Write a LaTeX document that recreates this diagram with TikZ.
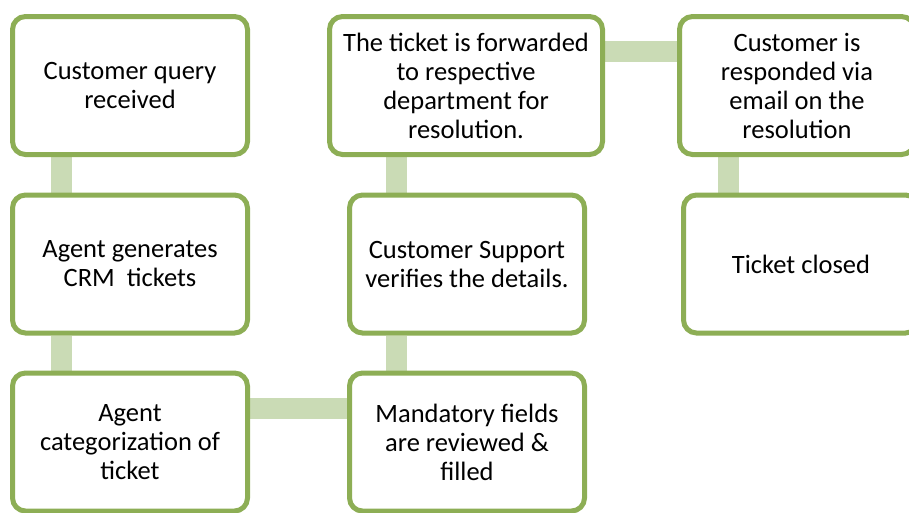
\documentclass[tikz,border=0pt]{standalone}
\usepackage{fontspec}
\setmainfont{Carlito}
\usetikzlibrary{backgrounds}
\definecolor{boxgreen}{HTML}{8DAE55}
\definecolor{linkgreen}{HTML}{CADBB5}
\tikzset{
  stepbox/.style={draw=boxgreen, line width=5pt, rounded corners=13pt, fill=white,
    minimum width=235pt, minimum height=138pt, align=center, inner sep=0pt,
    font=\fontsize{26.5}{29}\selectfont},
  widebox/.style={stepbox, minimum width=273pt},
  conn/.style={draw=linkgreen, line width=21pt}
}
\begin{document}
\begin{tikzpicture}[x=1pt,y=-1pt]
\useasboundingbox (0,0) rectangle (909,512);
\clip (0,0) rectangle (909,512);
\node[stepbox] (b1) at (130,85.5) {Customer query\\received};
\node[stepbox] (b2) at (130,264) {Agent generates\\CRM\ \ tickets};
\node[stepbox] (b3) at (130,442) {Agent\\categorization of\\ticket};
\node[stepbox] (b4) at (467,442) {Mandatory fields\\are reviewed \&\\filled};
\node[stepbox] (b5) at (467,264) {Customer Support\\verifies the details.};
\node[widebox] (b6) at (466,85.5) {The ticket is forwarded\\to respective\\department for\\resolution.};
\node[stepbox] (b7) at (797,85.5) {Customer is\\responded via\\email on the\\resolution};
\node[stepbox] (b8) at (801,264) {Ticket closed};
\begin{scope}[on background layer]
\draw[conn] ([xshift=-69pt]b1.south) -- ([xshift=-69pt]b2.north);
\draw[conn] ([xshift=-69pt]b2.south) -- ([xshift=-69pt]b3.north);
\draw[conn] ([yshift=34pt]b3.east) -- ([yshift=34pt]b4.west);
\draw[conn] ([xshift=-71pt]b4.north) -- ([xshift=-71pt]b5.south);
\draw[conn] ([xshift=-71pt]b5.north) -- ([xshift=-70pt]b6.south);
\draw[conn] ([yshift=34.5pt]b6.east) -- ([yshift=34.5pt]b7.west);
\draw[conn] ([xshift=-69pt]b7.south) -- ([xshift=-73pt]b8.north);
\end{scope}
\end{tikzpicture}
\end{document}
